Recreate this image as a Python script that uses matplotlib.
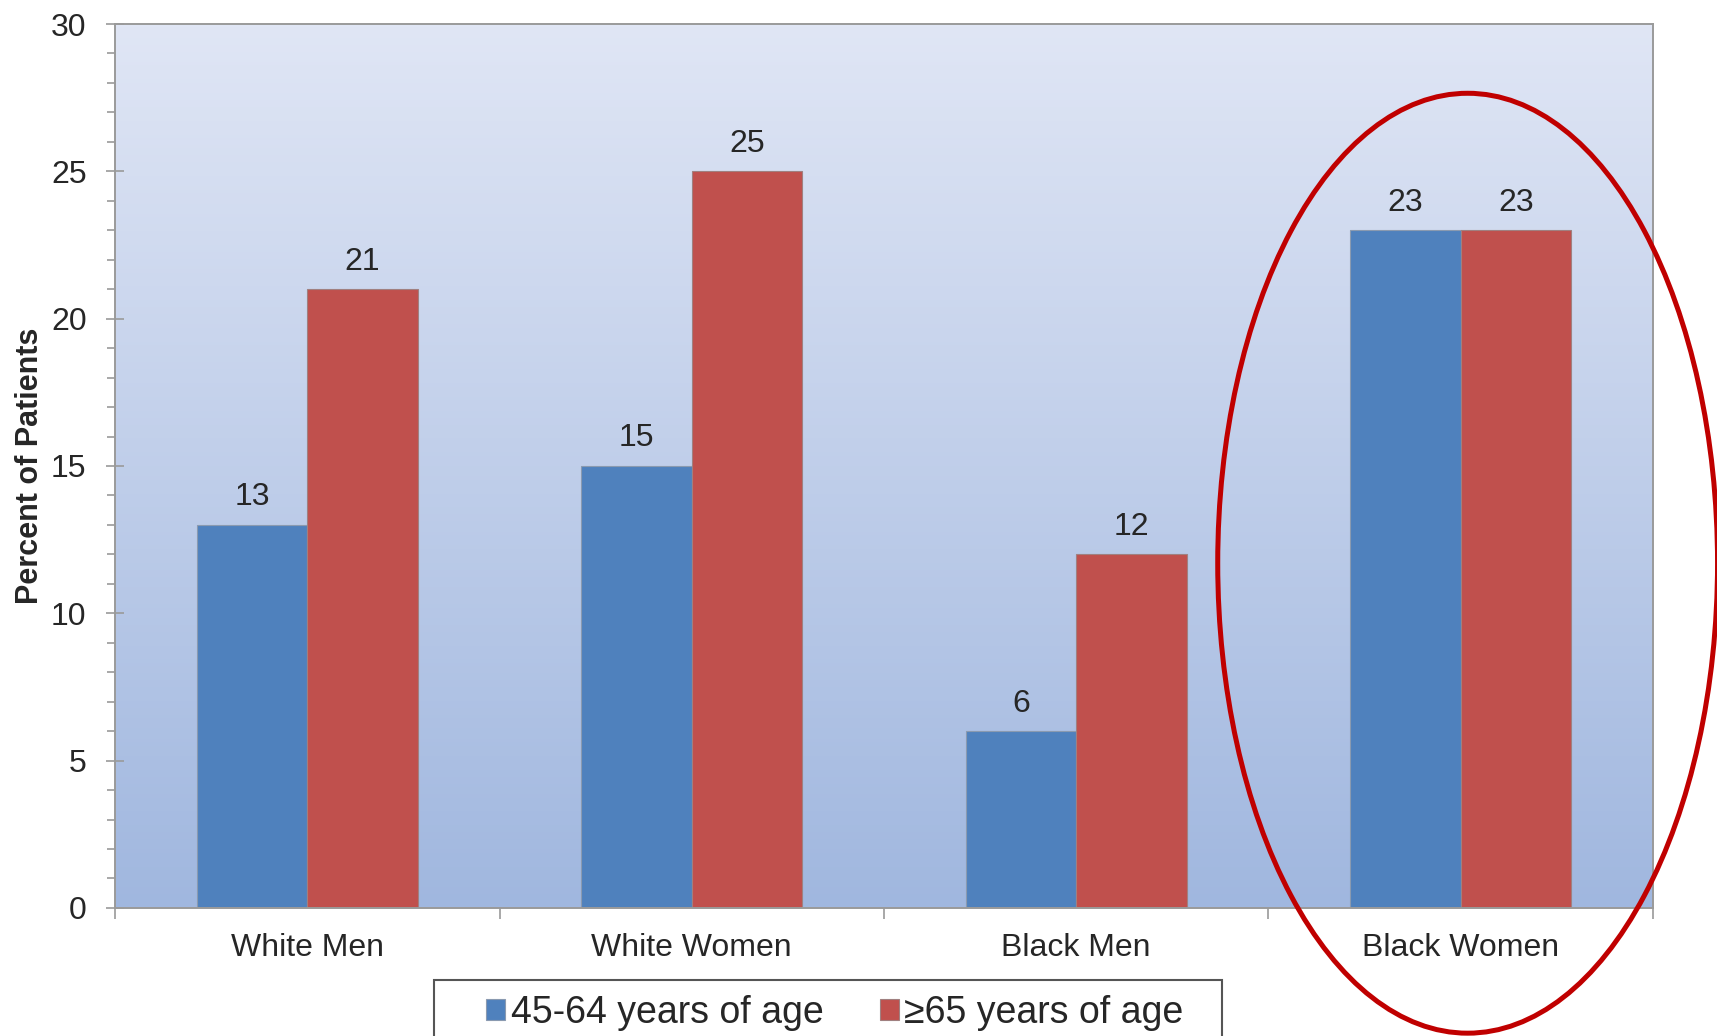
import matplotlib.pyplot as plt
import numpy as np
from matplotlib.patches import Ellipse, Rectangle
from matplotlib.colors import LinearSegmentedColormap

plt.rcParams['font.family'] = ['Liberation Sans', 'DejaVu Sans']

# data
groups = ['White Men', 'White Women', 'Black Men', 'Black Women']
age_45_64 = [13, 15, 6, 23]
age_65_up = [21, 25, 12, 23]
series_names = ['45-64 years of age', '\u226565 years of age']

blue = '#4f81bd'
red = '#c0504d'
txt = '#262626'
grey = '#9a9a9a'

fig = plt.figure(figsize=(17.17, 10.36), dpi=100)
ax = fig.add_axes([0.067, 0.1236, 0.8957, 0.8532])

x = np.arange(len(groups))
w = 0.287

# gradient background for the plot area
bg = LinearSegmentedColormap.from_list('bg', ['#a0b7df', '#e0e6f5'])
grad = np.linspace(0, 1, 256).reshape(-1, 1)
ax.imshow(grad, cmap=bg, origin='lower', aspect='auto',
          extent=(-0.5, len(groups) - 0.5, 0, 30), zorder=0)

b1 = ax.bar(x - w / 2, age_45_64, w, color=blue, edgecolor='#8a9ab0',
            linewidth=0.8, label=series_names[0], zorder=2)
b2 = ax.bar(x + w / 2, age_65_up, w, color=red, edgecolor='#a08080',
            linewidth=0.8, label=series_names[1], zorder=2)
for bars in (b1, b2):
    ax.bar_label(bars, padding=9, fontsize=23, color=txt)

ax.set_xlim(-0.5, len(groups) - 0.5)
ax.set_ylim(0, 30)
ax.set_yticks(range(0, 31, 5))
ax.set_yticks(range(0, 31), minor=True)
ax.tick_params(axis='y', which='major', direction='inout', length=13,
               width=1.2, color=grey, labelsize=23, labelcolor=txt, pad=14)
ax.tick_params(axis='y', which='minor', direction='out', length=6,
               width=1.2, color=grey)

ax.set_xticks(x)
ax.set_xticklabels(groups)
ax.set_xticks(np.arange(-0.5, len(groups), 1.0), minor=True)
ax.tick_params(axis='x', which='major', length=0, labelsize=23,
               labelcolor=txt, pad=18)
ax.tick_params(axis='x', which='minor', direction='out', length=8,
               width=1.2, color=grey)

for s in ax.spines.values():
    s.set_color(grey)
    s.set_linewidth(1.4)

ax.set_ylabel('Percent of Patients', fontsize=22, fontweight='bold',
              color=txt, labelpad=4)

leg = fig.legend(handles=[b1, b2], loc='upper center',
                 bbox_to_anchor=(0.4863, 0.0545), ncol=2, fontsize=27,
                 frameon=False, handlelength=0.5, handleheight=0.5,
                 handletextpad=0.15, columnspacing=1.5, borderpad=0.4,
                 borderaxespad=0)
for t in leg.get_texts():
    t.set_color(txt)

# legend box: wider side padding than matplotlib's borderpad gives
fig.canvas.draw()
bb = leg.get_window_extent().transformed(fig.transFigure.inverted())
padl, padr = 37 / 1717, 24 / 1717
fig.add_artist(Rectangle((bb.x0 - padl, bb.y0), bb.width + padl + padr,
                         bb.height, transform=fig.transFigure, fill=False,
                         edgecolor='#555555', linewidth=1.5))

# red ellipse highlighting the last group
ell = Ellipse((3.018, 11.7), 1.3, 31.9, fill=False, edgecolor='#c00000',
              linewidth=3.6, clip_on=False, zorder=5)
ax.add_patch(ell)

fig.savefig('out.png', dpi=100)
